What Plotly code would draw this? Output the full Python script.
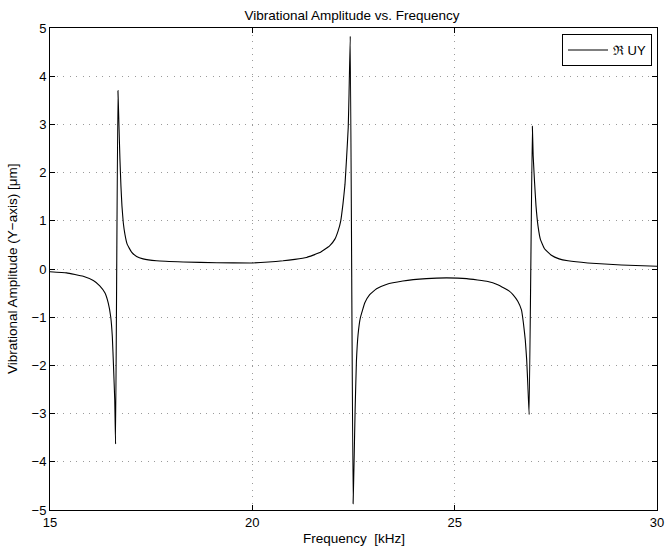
import plotly.graph_objects as go

freq_khz = [15.0, 15.41, 15.82, 16.07, 16.23, 16.36, 16.44, 16.50, 16.54, 16.57, 16.60, 16.62,
            16.679, 16.704, 16.728, 16.753, 16.778, 16.811, 16.852, 16.909, 17.016, 17.14,
            17.30, 17.63, 18.29, 19.12, 19.94, 20.4, 20.76, 21.05, 21.34, 21.67, 21.91, 22.04,
            22.12, 22.185, 22.24, 22.29, 22.33, 22.37, 22.39, 22.42,
            22.49, 22.514, 22.539, 22.572, 22.613, 22.67, 22.78, 22.90, 23.07, 23.31,
            23.72, 24.30, 24.8, 25.3, 25.82, 26.05, 26.23, 26.35, 26.44, 26.56, 26.65, 26.70,
            26.745, 26.78, 26.81, 26.84, 26.92, 26.94, 26.975, 27.01, 27.06, 27.12, 27.22,
            27.39, 27.58, 27.80, 28.29, 29.12, 30.0]
re_uy = [-0.056, -0.08, -0.15, -0.24, -0.35, -0.5, -0.71, -0.99, -1.4, -2.03, -2.72, -3.63,
         3.70, 2.97, 2.28, 1.72, 1.31, 0.96, 0.72, 0.51, 0.35, 0.26,
         0.21, 0.17, 0.146, 0.13, 0.125, 0.145, 0.17, 0.2, 0.24, 0.34, 0.48, 0.62,
         0.79, 1.0, 1.35, 1.76, 2.32, 2.94, 3.64, 4.83,
         -4.87, -4.0, -2.96, -1.92, -1.36, -1.01, -0.70, -0.53, -0.41, -0.32,
         -0.25, -0.20, -0.185, -0.2, -0.26, -0.32, -0.40, -0.46, -0.53, -0.67, -0.85, -1.13,
         -1.47, -1.89, -2.44, -3.02, 2.96, 2.35, 1.79, 1.31, 0.89, 0.61, 0.42,
         0.285, 0.21, 0.17, 0.125, 0.083, 0.056]

x_ticks = [15, 20, 25, 30]
y_ticks = [-5, -4, -3, -2, -1, 0, 1, 2, 3, 4, 5]

font_family = "Liberation Sans, Arial, Helvetica, sans-serif"
W, H = 667, 548
ML, MR, MT, MB = 50, 10, 28, 38
PW, PH = W - ML - MR, H - MT - MB

fig = go.Figure()
fig.add_trace(go.Scatter(x=freq_khz, y=re_uy, mode="lines", name="\u211C UY",
                         line=dict(color="black", width=1.1, shape="spline", smoothing=0.3)))

axis_common = dict(showline=True, linecolor="black", linewidth=1, mirror="ticks",
                   ticks="inside", ticklen=5, tickcolor="black", tickwidth=1,
                   showgrid=True, gridcolor="#9a9a9a", griddash="1px,5.5px", gridwidth=1,
                   zeroline=False, automargin=False,
                   tickfont=dict(size=13, color="black", family=font_family))

fig.update_layout(
    width=W, height=H,
    paper_bgcolor="white", plot_bgcolor="white",
    font=dict(family=font_family, size=13, color="black"),
    margin=dict(l=ML, r=MR, t=MT, b=MB),
    title=dict(text="Vibrational Amplitude vs. Frequency", x=352 / W, xanchor="center",
               xref="container", yref="container", y=1 - 15 / H, yanchor="middle",
               font=dict(size=13.5)),
    xaxis=dict(range=[15, 30], tickvals=x_ticks, **axis_common),
    yaxis=dict(range=[-5, 5], tickvals=y_ticks, **axis_common),
    showlegend=True,
    legend=dict(x=(652 - ML) / PW, y=1 - 6 / PH, xanchor="right", yanchor="top",
                bordercolor="black", borderwidth=1, bgcolor="white",
                font=dict(size=13), itemwidth=40, tracegroupgap=0),
    annotations=[
        dict(text="Frequency  [kHz]", xref="paper", yref="paper",
             x=(354 - ML) / PW, y=-(538 - (MT + PH)) / PH, xanchor="center", yanchor="middle",
             showarrow=False, font=dict(size=13.5)),
        dict(text="Vibrational Amplitude (Y\u2212axis) [\u03bcm]", xref="paper", yref="paper",
             x=-(ML - 12) / PW, y=0.5, xanchor="center", yanchor="middle",
             textangle=-90, showarrow=False, font=dict(size=13.5)),
    ],
)

fig.write_html("out.html",
               config={"displayModeBar": False},
               post_script="document.body.style.margin='0px';document.body.style.overflow='hidden';")
